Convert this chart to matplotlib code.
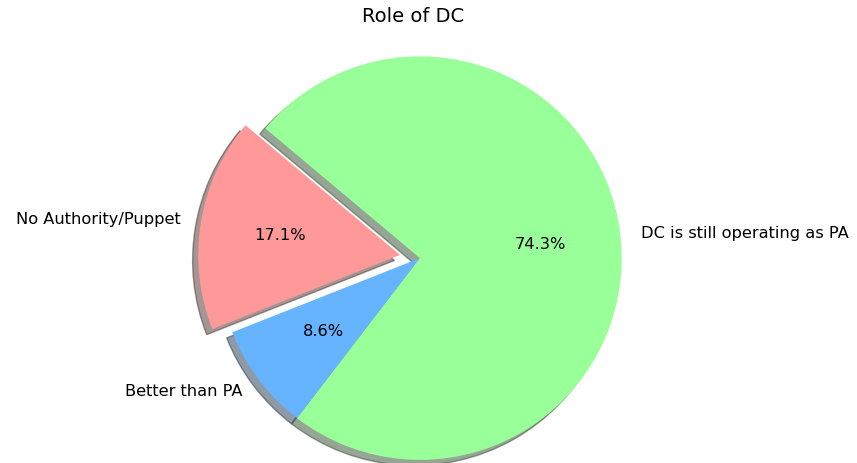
import matplotlib
matplotlib.use("Agg")
import matplotlib.pyplot as plt

labels = ["No Authority/Puppet", "Better than PA", "DC is still operating as PA"]
sizes = [17.1, 8.6, 74.3]
colors = ["#ff9999", "#66b3ff", "#99ff99"]
explode = [0.1, 0, 0]

fig = plt.figure(figsize=(8.57, 4.63), dpi=100)
ax = fig.add_axes([0.231, -0.037, 0.518, 0.959])

ax.pie(sizes, labels=labels, colors=colors, explode=explode,
       autopct="%1.1f%%", startangle=140, shadow=True,
       textprops={"fontsize": 11.7})
ax.set_aspect("equal")
ax.set_xlim(-1.1, 1.1)
ax.set_ylim(-1.1, 1.1)

fig.text(0.482, 1 - 17 / 463, "Role of DC", ha="center", va="center", fontsize=14)

fig.savefig("out.png", dpi=100)
